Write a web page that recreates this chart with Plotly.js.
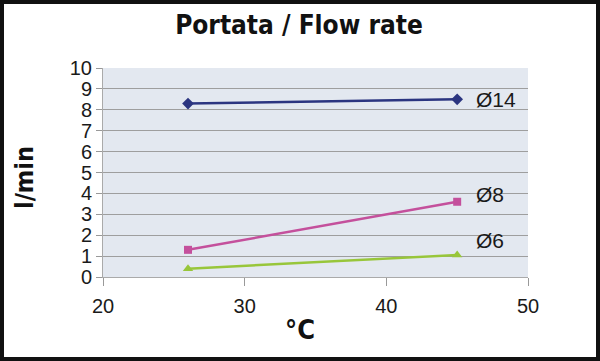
<!DOCTYPE html>
<html><head><meta charset="utf-8">
<script src="https://cdn.plot.ly/plotly-3.0.1.min.js"></script>
<style>
html,body{margin:0;padding:0;background:#fff;}
#wrap{position:relative;width:600px;height:361px;}
#chart{width:600px;height:361px;}
#frame{position:absolute;left:0;top:0;width:600px;height:361px;box-sizing:border-box;border:4px solid #111;pointer-events:none;}
</style></head>
<body>
<div id="wrap"><div id="chart"></div><div id="frame"></div></div>
<script>
const temps = [26, 45];
const d14 = [8.3, 8.5];
const d8 = [1.3, 3.6];
const d6 = [0.4, 1.05];
const seriesNames = ["Ø14", "Ø8", "Ø6"];
const xTicks = [20, 30, 40, 50];
const yTicks = [0,1,2,3,4,5,6,7,8,9,10];
const chartTitle = 'Portata / Flow rate';
const xTitle = '°C';
const yTitle = 'l/min';

const condensed = 'DejaVu Sans Condensed, Liberation Sans Narrow, Arial Narrow, sans-serif';
const traces = [
  {x: temps, y: d14, name: seriesNames[0], mode: 'lines+markers',
   line:{color:'#2b3580', width:2.5}, marker:{symbol:'diamond', size:9, color:'#2b3580'}},
  {x: temps, y: d8, name: seriesNames[1], mode: 'lines+markers',
   line:{color:'#c4509c', width:2.5}, marker:{symbol:'square', size:8, color:'#c4509c'}},
  {x: temps, y: d6, name: seriesNames[2], mode: 'lines+markers',
   line:{color:'#98c63a', width:2.5}, marker:{symbol:'triangle-up', size:9, color:'#98c63a'}}
];

const lastY = [d14[1], d8[1], d6[1]];
const labOff = [0, 0.35, 0.7];
const annotations = seriesNames.map((n,i)=>({
  x: temps[1], y: lastY[i] + labOff[i], xref:'x', yref:'y', text:n, showarrow:false,
  xanchor:'left', yanchor:'middle', xshift:17,
  font:{family:'Liberation Sans, Arial, sans-serif', size:21, color:'#1a1a1a'}
}));
annotations.push({
  text:'<b>'+xTitle+'</b>', xref:'paper', yref:'paper', x:0.4635, y:-0.25,
  xanchor:'center', yanchor:'middle', showarrow:false,
  font:{family:condensed, size:27, color:'#111'}
});
annotations.push({
  text:'<b>'+yTitle+'</b>', xref:'paper', yref:'paper', x:-0.186, y:0.478, textangle:-90,
  xanchor:'center', yanchor:'middle', showarrow:false,
  font:{family:condensed, size:25, color:'#111'}
});

const layout = {
  width:600, height:361,
  margin:{l:103, r:72, t:68, b:84},
  paper_bgcolor:'#ffffff', plot_bgcolor:'#e3e8f0',
  showlegend:false,
  title:{text:'<b>'+chartTitle+'</b>', x:0.4983, xanchor:'center', y:0.932, yanchor:'middle',
    font:{family:condensed, size:26, color:'#111'}},
  xaxis:{range:[20,50], tickvals:xTicks, ticks:'outside', ticklen:8, tickcolor:'#999',
    ticklabelstandoff:3,
    showgrid:false, zeroline:false, showline:true, linecolor:'#aaa', linewidth:1,
    tickfont:{family:'Liberation Sans, Arial, sans-serif', size:20, color:'#1a1a1a'}},
  yaxis:{range:[0,10], tickvals:yTicks, ticks:'outside', ticklen:6, tickcolor:'#999',
    showgrid:true, gridcolor:'#9e9e9e', gridwidth:1, zeroline:false, showline:true, linecolor:'#aaa',
    tickfont:{family:'Liberation Sans, Arial, sans-serif', size:20, color:'#1a1a1a'}},
  annotations: annotations
};
Plotly.newPlot('chart', traces, layout, {staticPlot:true, displayModeBar:false});
</script>
</body></html>
